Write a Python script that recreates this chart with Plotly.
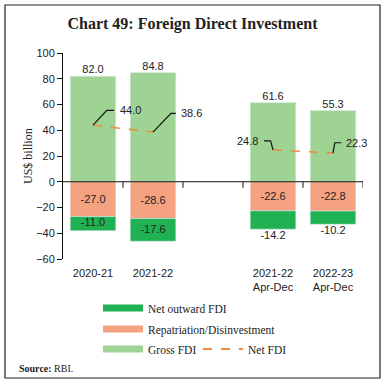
import plotly.graph_objects as go

# ---- data ----
categories = ["2020-21", "2021-22", "", "2021-22<br>Apr-Dec", "2022-23<br>Apr-Dec"]
gross_fdi = [82.0, 84.8, None, 61.6, 55.3]
repatriation = [-27.0, -28.6, None, -22.6, -22.8]
net_outward = [-11.0, -17.6, None, -14.2, -10.2]
net_fdi = [44.0, 38.6, None, 24.8, 22.3]
y_ticks = [-60, -40, -20, 0, 20, 40, 60, 80, 100]

# ---- styles ----
C_GROSS = "#9ED394"
C_REPAT = "#F5A281"
C_NETOUT = "#20B153"
C_NETFDI = "#F08A3C"
SANS = "Liberation Sans"
SERIF = "Liberation Serif"

W, H = 385, 387
ML, MR, MT, MB = 63, 22, 53, 128
PW, PH = W - ML - MR, H - MT - MB

xs = list(range(len(categories)))
valid = [i for i in xs if gross_fdi[i] is not None]

fig = go.Figure()

fig.add_trace(go.Bar(x=xs, y=gross_fdi, marker_color=C_GROSS, width=0.76,
                     showlegend=False, hoverinfo="skip"))
fig.add_trace(go.Bar(x=xs, y=repatriation, marker_color=C_REPAT, width=0.76,
                     showlegend=False, hoverinfo="skip",
                     text=[f"{v:.1f}" if v is not None else "" for v in repatriation],
                     textposition="inside", insidetextanchor="middle",
                     textfont=dict(family=SANS, size=11, color="#222"),
                     textangle=0))
fig.add_trace(go.Bar(x=xs, y=net_outward, marker_color=C_NETOUT, width=0.76,
                     showlegend=False, hoverinfo="skip"))

# gross labels
fig.add_trace(go.Scatter(x=[xs[i] for i in valid], y=[gross_fdi[i] for i in valid],
                         mode="text", text=[f"{gross_fdi[i]:.1f}" for i in valid],
                         textposition="top center",
                         textfont=dict(family=SANS, size=11, color="#222"),
                         showlegend=False, hoverinfo="skip"))

# net outward labels: inside for first two, below for last two
no_x, no_y, no_pos, no_txt = [], [], [], []
for k, i in enumerate(valid):
    bottom = repatriation[i] + net_outward[i]
    if k < 2:
        no_y.append(repatriation[i] + net_outward[i] / 2)
        no_pos.append("middle center")
    else:
        no_y.append(bottom - 1.5)
        no_pos.append("bottom center")
    no_x.append(xs[i])
    no_txt.append(f"{net_outward[i]:.1f}")
fig.add_trace(go.Scatter(x=no_x, y=no_y, mode="text", text=no_txt, textposition=no_pos,
                         textfont=dict(family=SANS, size=11, color="#222"),
                         showlegend=False, hoverinfo="skip"))

# net FDI dashed line
fig.add_trace(go.Scatter(x=xs, y=net_fdi, mode="lines",
                         line=dict(color=C_NETFDI, width=1.5, dash="dash"),
                         connectgaps=False, showlegend=False, hoverinfo="skip"))

# leader lines for net FDI labels (offsets in axis units)
leader_offsets = [  # (dx_bend, dy, dx_end, label_dx, anchor)
    (0.23, 11.5, 0.35, 0.42, "left"),
    (0.30, 14.5, 0.38, 0.43, "left"),
    None,
    (-0.04, 7.0, -0.15, -0.21, "right"),
    (0.03, 8.0, 0.14, 0.19, "left"),
]
lx, ly = [], []
for i in valid:
    dxb, dy, dxe, ldx, anc = leader_offsets[i]
    v = net_fdi[i]
    lx += [xs[i], xs[i] + dxb, xs[i] + dxe, None]
    ly += [v, v + dy, v + dy, None]
    fig.add_annotation(x=xs[i] + ldx, y=v + dy, text=f"{v:.1f}", showarrow=False,
                       xanchor=anc, yanchor="middle",
                       font=dict(family=SANS, size=11, color="#222"))
fig.add_trace(go.Scatter(x=lx, y=ly, mode="lines", line=dict(color="#111", width=1.2),
                         showlegend=False, hoverinfo="skip"))

# legend proxies, one legend per entry for exact placement
legend_entries = [
    ("Net outward FDI", dict(color=C_NETOUT, width=7), "legend", 103, 308),
    ("Repatriation/Disinvestment", dict(color=C_REPAT, width=7), "legend2", 103, 329),
    ("Gross FDI", dict(color=C_GROSS, width=7), "legend3", 103, 349),
    ("Net FDI", dict(color=C_NETFDI, width=2, dash="dash"), "legend4", 203, 349),
]
legend_layout = {}
for name, line, lg, px, py in legend_entries:
    fig.add_trace(go.Scatter(x=[None], y=[None], mode="lines", name=name,
                             line=line, legend=lg))
    legend_layout[lg] = dict(x=(px - 5 - ML) / PW, y=(H - MB - py) / PH,
                             xanchor="left", yanchor="middle", orientation="v",
                             itemwidth=40, font=dict(family=SERIF, size=11.5, color="#222"),
                             bgcolor="rgba(0,0,0,0)")

# zero line and boundary ticks
fig.add_shape(type="line", xref="paper", yref="y", x0=0, x1=1, y0=0, y1=0,
              line=dict(color="#111", width=1.2))
for b in [i + 0.5 for i in xs]:
    fig.add_shape(type="line", xref="x", yref="y", x0=b, x1=b, ysizemode="pixel",
                  yanchor=0, y0=0, y1=-6, line=dict(color="#111", width=1))

# border
fig.add_shape(type="rect", xref="paper", yref="paper",
              x0=(5 - ML) / PW, x1=(380 - ML) / PW,
              y0=(H - MB - 378) / PH, y1=(H - MB - 5) / PH,
              line=dict(color="#222", width=1.2))

fig.add_annotation(xref="paper", yref="paper", x=(17 - ML) / PW, y=(H - MB - 368) / PH,
                   xanchor="left", yanchor="middle", showarrow=False,
                   text="<b>Source:</b> RBI.", font=dict(family=SERIF, size=10, color="#222"))

# y-axis title
fig.add_annotation(xref="paper", yref="paper", x=(28 - ML) / PW, y=0.5,
                   xanchor="center", yanchor="middle", showarrow=False, textangle=-90,
                   text="US$ billion", font=dict(family=SERIF, size=12, color="#222"))

fig.update_layout(
    width=W, height=H,
    margin=dict(l=ML, r=MR, t=MT, b=MB, autoexpand=False),
    paper_bgcolor="white", plot_bgcolor="white",
    barmode="relative",
    title=dict(text="<b>Chart 49: Foreign Direct Investment</b>", x=0.5, xref="container",
               xanchor="center", y=1 - 23 / H, yanchor="middle", yref="container",
               font=dict(family=SERIF, size=16, color="#222")),
    xaxis=dict(range=[-0.5, len(categories) - 0.5], tickvals=xs, ticktext=categories,
               ticks="", showgrid=False, zeroline=False, showline=False, automargin=False,
               ticklabelstandoff=6,
               tickfont=dict(family=SANS, size=11, color="#222")),
    yaxis=dict(range=[-60, 100], tickvals=y_ticks, ticks="outside", ticklen=5,
               showgrid=False, zeroline=False, showline=True, linecolor="#111",
               tickcolor="#111", linewidth=1, automargin=False,
               tickfont=dict(family=SANS, size=11, color="#222")),
    **legend_layout,
)

fig.write_html("out.html", config={"displayModeBar": False},
               post_script="document.body.style.margin='0';document.body.style.overflow='hidden';")
